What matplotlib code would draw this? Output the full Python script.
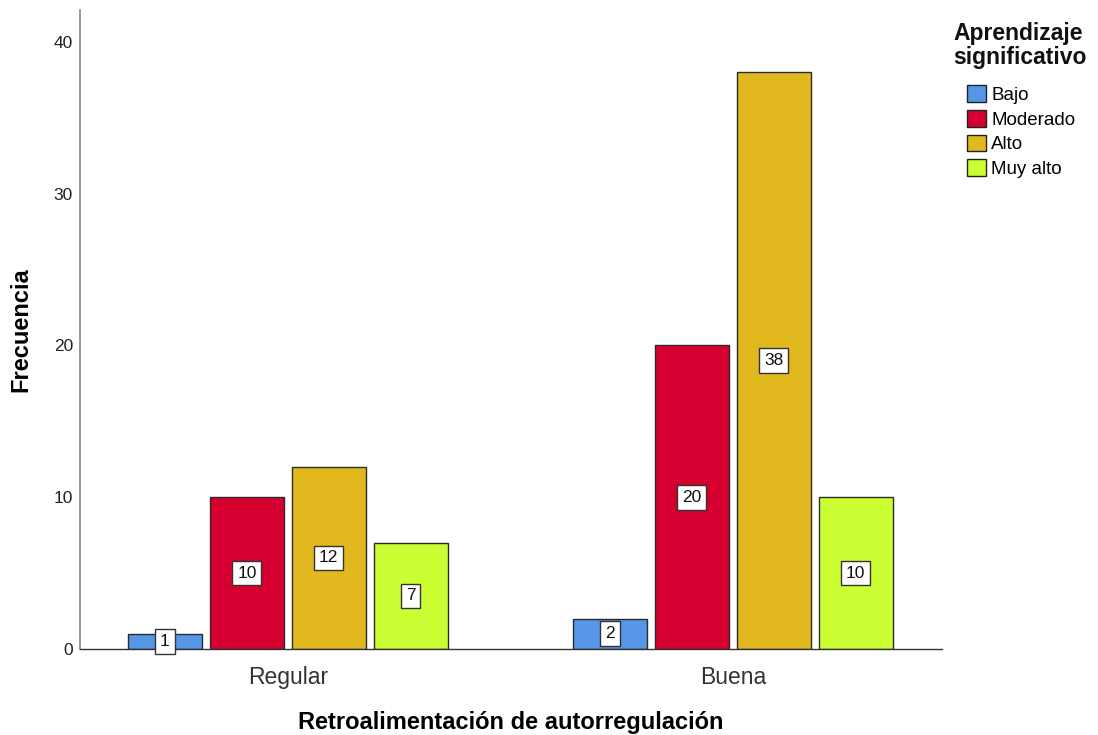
import matplotlib
matplotlib.use("Agg")
import matplotlib.pyplot as plt
from matplotlib.patches import Patch
import numpy as np

plt.rcParams['font.family'] = ['Liberation Sans', 'DejaVu Sans']

categories = ["Regular", "Buena"]
series_names = ["Bajo", "Moderado", "Alto", "Muy alto"]
values = {
    "Bajo": [1, 2],
    "Moderado": [10, 20],
    "Alto": [12, 38],
    "Muy alto": [7, 10],
}
colors = ["#5596E6", "#D5002F", "#E1B91F", "#CCFF33"]
y_ticks = [0, 10, 20, 30, 40]

fig = plt.figure(figsize=(10.98, 7.35), dpi=100)
ax = fig.add_axes([80 / 1098, 1 - 649 / 735, 862 / 1098, 639 / 735])

x = np.arange(len(categories))
bar_w = 0.166
step = 0.184
offsets = (np.arange(len(series_names)) - 1.5) * step

for i, name in enumerate(series_names):
    vals = values[name]
    ax.bar(x + offsets[i], vals, width=bar_w, color=colors[i],
           edgecolor="#2a2a2a", linewidth=1.0, zorder=2)
    for xi, v in zip(x + offsets[i], vals):
        ax.text(xi, v / 2, str(v), ha="center", va="center", fontsize=12.5,
                color="#111111", zorder=4,
                bbox=dict(boxstyle="square,pad=0.28", fc="white",
                          ec="#333333", lw=1.0))

ax.set_xlim(-0.467, 1.47)
ax.set_ylim(0, 42.1)
ax.set_xticks(x)
ax.set_xticklabels(categories, fontsize=16.5, color="#333333")
ax.set_yticks(y_ticks)
ax.set_yticklabels([str(t) for t in y_ticks], fontsize=12.5, color="#222222")
ax.tick_params(axis="both", length=0)
ax.tick_params(axis="x", pad=12)
ax.tick_params(axis="y", pad=5)

for s in ["top", "right"]:
    ax.spines[s].set_visible(False)
ax.spines["left"].set_color("#888888")
ax.spines["left"].set_linewidth(1.2)
ax.spines["bottom"].set_color("#333333")
ax.spines["bottom"].set_linewidth(1.0)

ax.set_ylabel("Frecuencia", fontsize=17, fontweight="bold", labelpad=15)
ax.set_xlabel("Retroalimentación de autorregulación", fontsize=17,
              fontweight="bold", labelpad=16)

# Legend title set as its own text block, entries listed below it
fig.text(953 / 1098, 1 - 22 / 735, "Aprendizaje\nsignificativo",
         ha="left", va="top", fontsize=16.5, fontweight="bold",
         linespacing=1.05, color="#111111")

handles = [Patch(facecolor=c, edgecolor="#222222", linewidth=1.0)
           for c in colors]
leg = fig.legend(handles, series_names, loc="upper left",
                 bbox_to_anchor=(967 / 1098, 1 - 85 / 735),
                 frameon=False, borderpad=0, borderaxespad=0,
                 fontsize=13.5, handlelength=1.0, handleheight=1.0,
                 handletextpad=0.3, labelspacing=0.32)

fig.savefig("out.png", dpi=100)
